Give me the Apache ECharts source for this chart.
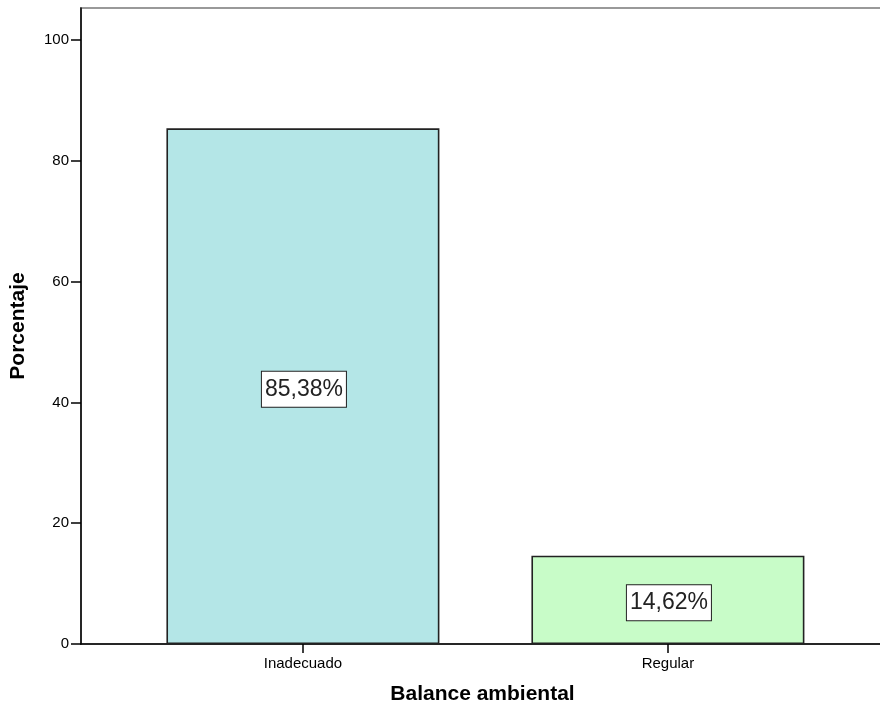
<!DOCTYPE html>
<html>
<head>
<meta charset="utf-8">
<script src="https://cdn.jsdelivr.net/npm/echarts@6/dist/echarts.min.js"></script>
<style>
  html, body { margin: 0; padding: 0; background: #fff; }
  #chart { width: 880px; height: 710px; }
</style>
</head>
<body>
<div id="chart"></div>
<script>
// Balance ambiental: percentage of cases per category
const categories = ['Inadecuado', 'Regular'];
const percentages = [85.38, 14.62];
const barColors = ['#b4e6e7', '#c8fcc8'];
const yTicks = [0, 20, 40, 60, 80, 100];

const chart = echarts.init(document.getElementById('chart'));

const font = '"Liberation Sans", Arial, sans-serif';

chart.setOption({
  animation: false,
  backgroundColor: '#ffffff',
  grid: {
    left: 81, right: -4, top: 8, bottom: 66,
    outerBoundsMode: 'none',
    containLabel: false,
    show: true,
    borderColor: '#999999',
    borderWidth: 2,
    backgroundColor: 'transparent'
  },
  xAxis: {
    type: 'value',
    min: -0.608,
    max: 1.592,
    splitLine: { show: false },
    name: 'Balance ambiental',
    nameLocation: 'middle',
    nameGap: 40,
    nameTextStyle: { fontFamily: font, fontSize: 21, fontWeight: 'bold', color: '#000' },
    axisLine: { show: true, onZero: false, lineStyle: { color: '#000', width: 1.5 } },
    axisTick: {
      show: true, length: 9, inside: false,
      customValues: categories.map((c, i) => i),
      lineStyle: { color: '#000', width: 1.5 }
    },
    axisLabel: {
      customValues: categories.map((c, i) => i),
      formatter: v => categories[Math.round(v)] || '',
      fontFamily: font, fontSize: 15, color: '#000', margin: 12
    }
  },
  yAxis: {
    type: 'value',
    min: 0,
    max: 105.3,
    splitLine: { show: false },
    name: 'Porcentaje',
    nameLocation: 'middle',
    nameGap: 52,
    nameRotate: 90,
    nameTextStyle: { fontFamily: font, fontSize: 21, fontWeight: 'bold', color: '#000' },
    axisLine: { show: true, onZero: false, lineStyle: { color: '#000', width: 1.5 } },
    axisTick: {
      show: true, length: 10,
      customValues: yTicks,
      lineStyle: { color: '#000', width: 1.5 }
    },
    axisLabel: {
      customValues: yTicks,
      fontFamily: font, fontSize: 15, color: '#000', margin: 12
    }
  },
  series: [{
    type: 'bar',
    barWidth: 273,
    data: percentages.map((v, i) => ({
      value: [i, v],
      itemStyle: { color: barColors[i] }
    })),
    itemStyle: { borderColor: '#222', borderWidth: 1.6 },
    label: {
      show: true,
      position: 'inside',
      offset: [1, 3],
      formatter: p => p.value[1].toFixed(2).replace('.', ',') + '%',
      fontFamily: font,
      fontSize: 23,
      lineHeight: 23,
      color: '#222',
      backgroundColor: '#fff',
      borderColor: '#222',
      borderWidth: 1,
      padding: [6, 3, 6, 3]
    }
  }]
});
</script>
</body>
</html>
